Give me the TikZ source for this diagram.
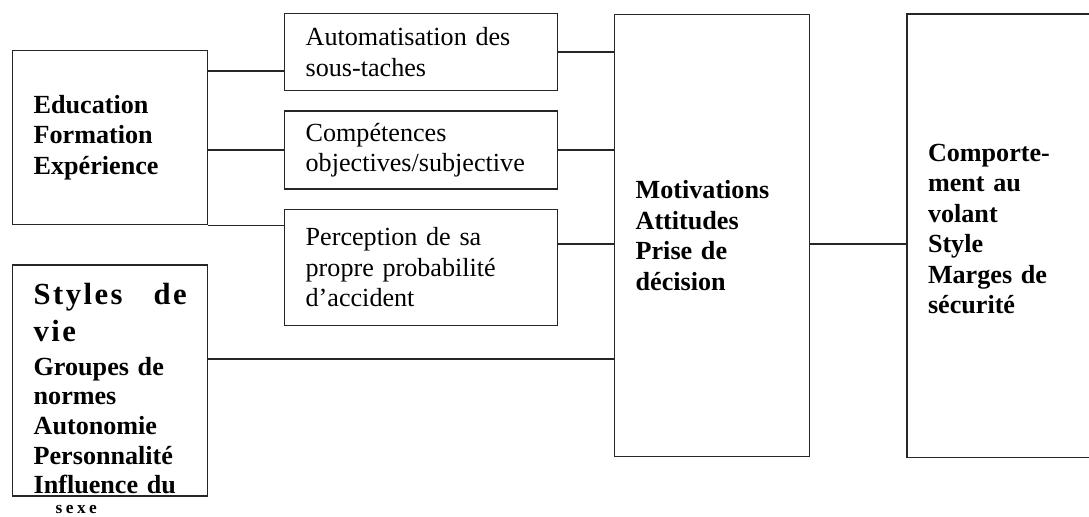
\documentclass[tikz,border=0pt]{standalone}
\usepackage{fontspec}
\setmainfont{Liberation Serif}
\usetikzlibrary{positioning}

\begin{document}
\begin{tikzpicture}[
      x=0.75pt, y=-0.75pt,
      node distance=14.25pt,
      box/.style={rectangle,draw=black!85,line width=1pt,inner xsep=15.75pt,inner ysep=0pt,
                  align=left,anchor=north west,font=\fontsize{19.6pt}{22.9pt}\selectfont},
      midbox/.style={box,text width=173.25pt,minimum height=#1},
      sidebox/.style={box,text width=114.75pt,minimum height=#1,
                  font=\fontsize{19.6pt}{22.9pt}\selectfont\bfseries},
      link/.style={draw=black!85,line width=1pt}
    ]
    \useasboundingbox (0,0) rectangle (1089,517);
    \clip (0,0) rectangle (1089,517);

    % left column
    \node[sidebox=130.5pt] (edu) at (12,50) {Education\\ Formation\\ Expérience};
    \node[sidebox=173.25pt,below=29.25pt of edu] (styles) {\parbox[c][173.25pt][t]{114.75pt}{%
      \vspace*{14pt}%
      {\fontsize{23pt}{27.5pt}\selectfont\addfontfeature{LetterSpace=8}Styles\hfill de\\ vie\par}%
      \vspace{3pt}%
      \fontsize{19.6pt}{22.2pt}\selectfont
      Groupes de\\ normes\\ Autonomie\\ Personnalité\\ Influence du\\[-7.5pt]%
      \hspace*{16.5pt}{\fontsize{13pt}{13pt}\selectfont\addfontfeature{LetterSpace=20}sexe}}};

    % middle column
    \node[midbox=57.75pt] (auto) at (284,13) {Automatisation des\\ sous-taches};
    \node[midbox=58.5pt,below=of auto] (comp) {Compétences\\ objectives/subjective};
    \node[midbox=87pt,below=of comp] (perc) {Perception de sa\\ propre probabilité\\ d’accident};

    % right column
    \node[sidebox=331.5pt] (motiv) at (614,14) {Motivations\\ Attitudes\\ Prise de\\ décision};
    \node[sidebox=332.25pt,right=72pt of motiv] (comport) {Comporte-\\ ment au\\ volant\\ Style\\ Marges de\\ sécurité\rule[-10pt]{0pt}{10pt}};

    \draw[link] (edu.east |- 0,71) -- (auto.west |- 0,71);
    \draw[link] (edu.east |- comp.west) -- (comp.west);
    \draw[link] (edu.south east) -- (edu.south east -| perc.west);
    \draw[link] (auto.east) -- (auto.east -| motiv.west);
    \draw[link] (comp.east) -- (comp.east -| motiv.west);
    \draw[link] (perc.east |- 0,244) -- (motiv.west |- 0,244);
    \draw[link] (styles.east |- 0,359) -- (motiv.west |- 0,359);
    \draw[link] (motiv.east |- 0,244) -- (comport.west |- 0,244);

  \end{tikzpicture}
\end{document}
